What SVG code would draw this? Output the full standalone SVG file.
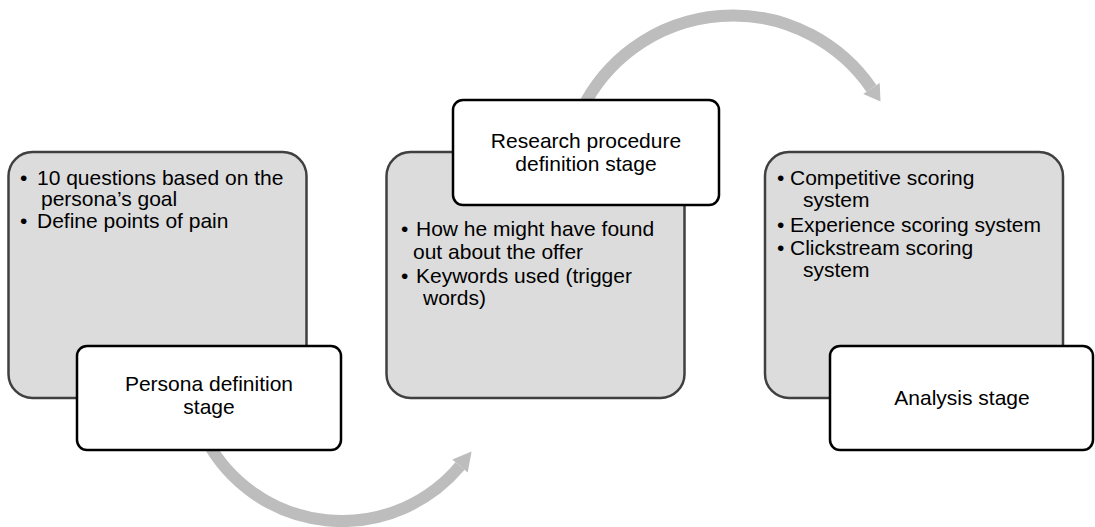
<svg xmlns="http://www.w3.org/2000/svg" width="1095" height="527" viewBox="0 0 1095 527">
<style>
.outer{fill:#dcdcdc;stroke:#404040;stroke-width:2.5}
.inner{fill:#ffffff;stroke:#000000;stroke-width:2.5}
.t{font-family:"Liberation Sans",Arial,Helvetica,sans-serif;font-size:21px;fill:#000}
.c{text-anchor:middle}
.arc{fill:none;stroke:#bdbdbe;stroke-width:12}
.head{fill:#bdbdbe}
</style>
<rect width="1095" height="527" fill="#ffffff"/>
<g id="connectors">
<path class="arc" d="M 206.4 440 A 154 154 0 0 0 460 466"/>
<polygon class="head" points="471.6,451.5 467.7,472.4 452.3,459.6"/>
<path class="arc" d="M 581.6 110 A 168.2 168.2 0 0 1 871.5 88.5"/>
<polygon class="head" points="880.5,101.5 863.2,94.1 879.7,82.9"/>
</g>
<g id="node-persona">
<rect class="outer" x="8.5" y="152" width="298" height="246" rx="24"/>
<text class="t" x="20" y="185">•</text>
<text class="t" x="37" y="185">10 questions based on the</text>
<text class="t" x="41" y="206">persona’s goal</text>
<text class="t" x="20" y="228">•</text>
<text class="t" x="37" y="228">Define points of pain</text>
<rect class="inner" x="77" y="346" width="264" height="104" rx="10"/>
<text class="t c" x="209" y="391">Persona definition</text>
<text class="t c" x="209" y="414">stage</text>
</g>
<g id="node-research">
<rect class="outer" x="386.5" y="152" width="298" height="246" rx="24"/>
<text class="t" x="401" y="236">•</text>
<text class="t" x="416" y="236">How he might have found</text>
<text class="t" x="413" y="259">out about the offer</text>
<text class="t" x="401" y="283">•</text>
<text class="t" x="416" y="283">Keywords used (trigger</text>
<text class="t" x="423" y="305">words)</text>
<rect class="inner" x="453" y="100" width="266" height="105" rx="10"/>
<text class="t c" x="586" y="148">Research procedure</text>
<text class="t c" x="586" y="171">definition stage</text>
</g>
<g id="node-analysis">
<rect class="outer" x="765" y="152" width="298" height="246" rx="24"/>
<text class="t" x="777" y="185">•</text>
<text class="t" x="790" y="185">Competitive scoring</text>
<text class="t" x="803" y="207">system</text>
<text class="t" x="777" y="232">•</text>
<text class="t" x="790" y="232">Experience scoring system</text>
<text class="t" x="777" y="255">•</text>
<text class="t" x="790" y="255">Clickstream scoring</text>
<text class="t" x="803" y="277">system</text>
<rect class="inner" x="830" y="346" width="263" height="104" rx="10"/>
<text class="t c" x="962" y="405">Analysis stage</text>
</g>
</svg>
